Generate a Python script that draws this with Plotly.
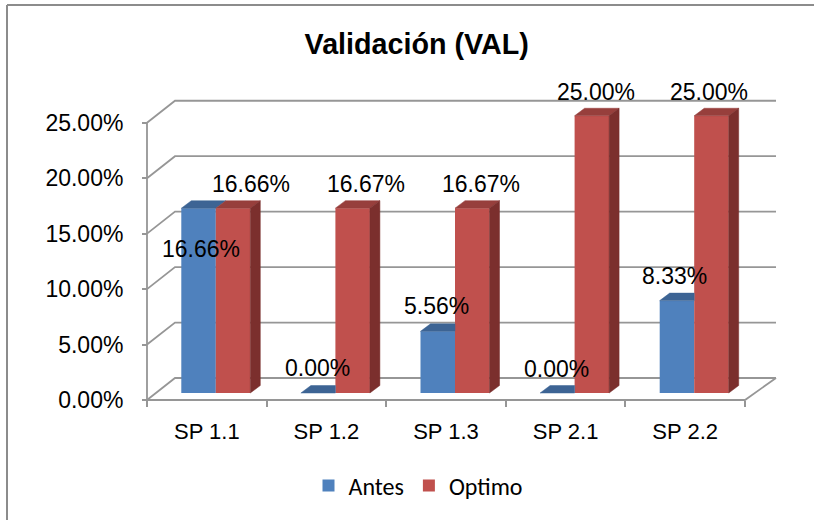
import plotly.graph_objects as go

# ---- data ----
categories = ["SP 1.1", "SP 1.2", "SP 1.3", "SP 2.1", "SP 2.2"]
antes = [16.66, 0.00, 5.56, 0.00, 8.33]
optimo = [16.66, 16.67, 16.67, 25.00, 25.00]
y_ticks = [0, 5, 10, 15, 20, 25]
series_names = ["Antes", "Optimo"]

# data-label nudges in pixels (xshift, yshift) from the top centre of each bar front
antes_label_shift = [(2.5, -40.5), (-1, 25), (-1.5, 25), (-1, 24.5), (-2, 24.5)]
optimo_label_shift = [(17.5, 24), (13, 24), (8.5, 24), (4.5, 24), (-2.3, 24)]

# ---- styling / geometry of the pseudo-3D box ----
W, H = 814, 520
PXU = 119.6          # pixels per category
PYU = 11.09          # pixels per percentage point
AX_X, AX_Y = 147, 400  # front-left corner of the floor
PA_L, PA_R, PA_T, PA_B = 138, 786, 84, 412  # plot area in pixels
PW, PH = PA_R - PA_L, PA_B - PA_T

BACK_L = (28 / PXU, 22 / PYU)   # depth offset of the back wall (left side)
BACK_R = (31 / PXU, 22 / PYU)   # depth offset of the back wall (right side)
BAR_SHIFT = (9 / PXU, 7 / PYU)  # bar front plane relative to the axis plane
BAR_DEPTH = (10 / PXU, 7.5 / PYU)
BW = 34.5 / PXU                 # width of one bar

BLUE, BLUE_TOP = "#4f81bd", "#3d6494"
RED, RED_TOP, RED_SIDE = "#c0504d", "#973f3c", "#7b2f2d"
GRID = "#969696"
FRAME = "#8c8c8c"
FONT = "Liberation Sans, Arial, sans-serif"


def paper_x(px):
    return (px - PA_L) / PW


def paper_y(py):
    return (PA_B - py) / PH


n = len(categories)
x_lo = -0.5 - (AX_X - PA_L) / PXU
x_hi = -0.5 + (PA_R - AX_X) / PXU
y_lo = -(PA_B - AX_Y) / PYU
y_hi = (AX_Y - PA_T) / PYU

fig = go.Figure()

# walls: side-wall diagonals and back-wall gridlines
gx, gy = [], []
left_edge, right_edge = -0.5, n - 0.5
for t in y_ticks:
    gx += [left_edge, left_edge + BACK_L[0], right_edge + BACK_R[0], None]
    gy += [t, t + BACK_L[1], t + BACK_R[1], None]
# front floor edge, right floor edge and vertical value axis
gx += [left_edge, left_edge, right_edge, right_edge + BACK_R[0]]
gy += [y_ticks[-1], 0, 0, BACK_R[1]]
fig.add_trace(go.Scatter(x=gx, y=gy, mode="lines", line=dict(color=GRID, width=1.8),
                         hoverinfo="skip", showlegend=False, xaxis="x", yaxis="y"))

# bar front faces
idx = list(range(n))
fig.add_trace(go.Bar(x=idx, y=antes, name=series_names[0], width=BW, offset=-BW,
                     marker=dict(color=BLUE, line=dict(width=0)),
                     xaxis="x2", yaxis="y2", hovertext=categories))
fig.add_trace(go.Bar(x=idx, y=optimo, name=series_names[1], width=BW, offset=0,
                     marker=dict(color=RED, line=dict(width=0)),
                     xaxis="x2", yaxis="y2", hovertext=categories))


def face(xs, ys, color):
    fig.add_trace(go.Scatter(x=xs + [xs[0]], y=ys + [ys[0]], mode="lines", fill="toself",
                             fillcolor=color, line=dict(color=color, width=0.5),
                             hoverinfo="skip", showlegend=False, xaxis="x2", yaxis="y2"))


dx, dy = BAR_DEPTH
for i in idx:
    a, o = antes[i], optimo[i]
    x0, x1 = i - BW, i
    # top of the blue bar; its right part is hidden behind a taller red bar
    if o > a:
        face([x0, x1, x1, x0 + dx], [a, a, a + dy, a + dy], BLUE_TOP)
    else:
        face([x0, x1, x1 + dx, x0 + dx], [a, a, a + dy, a + dy], BLUE_TOP)
    # top and side of the red bar
    r0, r1 = i, i + BW
    face([r0, r1, r1 + dx, r0 + dx], [o, o, o + dy, o + dy], RED_TOP)
    face([r1, r1 + dx, r1 + dx, r1], [0, dy, o + dy, o], RED_SIDE)

# data labels
annotations = []
for vals, shifts, off in ((antes, antes_label_shift, -BW / 2), (optimo, optimo_label_shift, BW / 2)):
    for i, v in enumerate(vals):
        annotations.append(dict(x=i + off, y=v, xref="x2", yref="y2", text=f"{v:.2f}%",
                                showarrow=False, xshift=shifts[i][0], yshift=shifts[i][1],
                                xanchor="center", yanchor="middle",
                                font=dict(family=FONT, size=23, color="#000000")))

# chart-area frame: only its left and top edges fall inside the page
frame = [
    dict(type="rect", xref="paper", yref="paper", x0=paper_x(796), x1=paper_x(W + 60),
         y0=paper_y(H + 60), y1=paper_y(7), line=dict(width=0), fillcolor="white",
         layer="above"),
    dict(type="line", xref="paper", yref="paper", x0=paper_x(7), x1=paper_x(7),
         y0=paper_y(5), y1=paper_y(H + 60), line=dict(color=FRAME, width=2), layer="above"),
    dict(type="line", xref="paper", yref="paper", x0=paper_x(7), x1=paper_x(W + 60),
         y0=paper_y(5), y1=paper_y(5), line=dict(color=FRAME, width=2), layer="above"),
]

fig.update_layout(
    width=W, height=H,
    margin=dict(l=PA_L, r=W - PA_R, t=PA_T, b=H - PA_B, pad=0, autoexpand=False),
    paper_bgcolor="white", plot_bgcolor="rgba(0,0,0,0)",
    barmode="overlay",
    title=dict(text="<b>Validación (VAL)</b>", xref="container", x=416.7 / W, xanchor="center",
               yref="container", y=1 - 44 / H, yanchor="middle", automargin=False,
               font=dict(family=FONT, size=28.7, color="#000000")),
    xaxis=dict(range=[x_lo, x_hi], anchor="free", position=paper_y(AX_Y), automargin=False,
               tickmode="array", tickvals=idx, ticktext=categories, ticks="",
               minor=dict(tickmode="array", tickvals=[k - 0.5 for k in range(n + 1)],
                          ticks="outside", ticklen=6, tickwidth=1.5, tickcolor=GRID,
                          showgrid=False),
               showgrid=False, zeroline=False, showline=False, ticklabelstandoff=16,
               tickfont=dict(family=FONT, size=22, color="#000000"), fixedrange=True),
    yaxis=dict(range=[y_lo, y_hi], anchor="free", position=paper_x(AX_X), automargin=False,
               tickmode="array", tickvals=y_ticks, ticktext=[f"{t:.2f}%" for t in y_ticks],
               ticks="outside", ticklen=5, tickwidth=1.5, tickcolor=GRID,
               showgrid=False, zeroline=False, showline=False, ticklabelstandoff=14,
               tickfont=dict(family=FONT, size=23, color="#000000"), fixedrange=True),
    xaxis2=dict(range=[x_lo - BAR_SHIFT[0], x_hi - BAR_SHIFT[0]], overlaying="x",
                anchor="y2", visible=False, fixedrange=True),
    yaxis2=dict(range=[y_lo - BAR_SHIFT[1], y_hi - BAR_SHIFT[1]], overlaying="y",
                anchor="x2", visible=False, fixedrange=True),
    legend=dict(orientation="h", xref="container", x=418 / W, xanchor="center",
                yref="container", y=1 - 486 / H, yanchor="middle",
                font=dict(family="Carlito, Lato, sans-serif", size=24, color="#000000"),
                itemsizing="constant", traceorder="normal", bgcolor="rgba(0,0,0,0)"),
    annotations=annotations,
    shapes=frame,
    showlegend=True,
)

fig.write_html("out.html")
